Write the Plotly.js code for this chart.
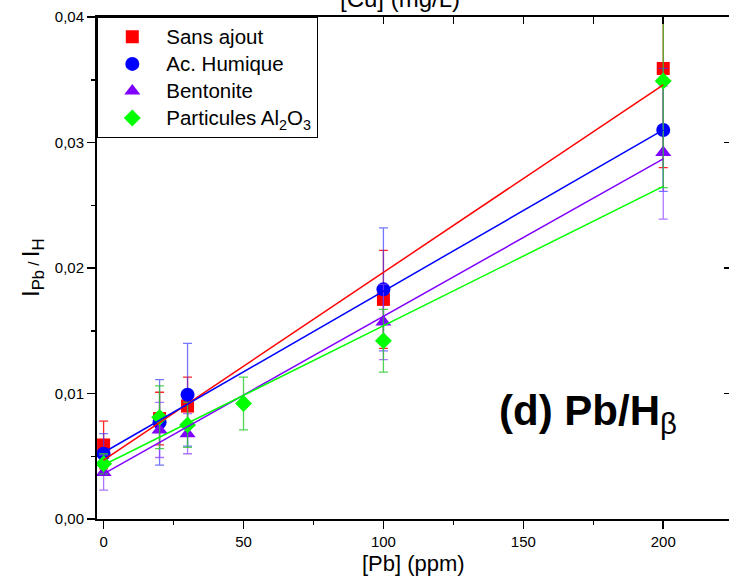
<!DOCTYPE html>
<html><head><meta charset="utf-8">
<script src="https://cdn.plot.ly/plotly-3.0.1.min.js"></script>
<style>body{margin:0;padding:0;background:#fff}#chart{width:729px;height:580px}</style>
</head><body><div id="chart"></div>
<script>
const seriesNames = ['Sans ajout', 'Ac. Humique', 'Bentonite', 'Particules Al<sub>2</sub>O<sub>3</sub>'];
const xSans = [0, 20, 30, 100, 200];
const ySans = [0.0059, 0.0080, 0.0090, 0.0175, 0.0359];
const eSans = [0.0019, 0.0021, 0.0023, 0.0039, 0.0079];
const xHum = [0, 20, 30, 100, 200];
const yHum = [0.0052, 0.0077, 0.0099, 0.0183, 0.0310];
const eHum = [0.0016, 0.0034, 0.0041, 0.0049, 0.0049];
const xBen = [0, 20, 30, 100, 200];
const yBen = [0.0037, 0.0071, 0.0068, 0.0157, 0.0292];
const eBen = [0.0014, 0.0022, 0.0016, 0.0030, 0.0053];
const xAl = [0, 20, 30, 50, 100, 200];
const yAl = [0.0044, 0.0081, 0.0075, 0.0092, 0.0142, 0.0349];
const eAl = [0.0008, 0.0025, 0.0018, 0.0021, 0.0025, 0.0085];
const fitX = [0, 200];
const fitSans = [0.0047, 0.0346];
const fitHum = [0.0053, 0.0310];
const fitBen = [0.0036, 0.0287];
const fitAl = [0.0043, 0.0265];
const xTickVals = [0, 50, 100, 150, 200];
const yTickVals = [0, 0.01, 0.02, 0.03, 0.04];

const colors = ['#ff0000', '#0000ff', '#8000ff', '#00ff00'];
const errColors = ['rgba(255,0,0,0.85)', 'rgba(60,60,255,0.7)', 'rgba(140,60,255,0.7)', 'rgba(40,200,40,0.8)'];
const symbols = ['square', 'circle', 'triangle-up', 'diamond'];
const sizes = [13, 14, 14, 13];
const xs = [xSans, xHum, xBen, xAl];
const ys = [ySans, yHum, yBen, yAl];
const es = [eSans, eHum, eBen, eAl];
const fits = [fitSans, fitHum, fitBen, fitAl];

const traces = [];
for (let i = 0; i < 4; i++) {
  traces.push({
    type: 'scatter', mode: 'markers',
    name: '<span style="font-size:20.5px">' + seriesNames[i] + '</span>',
    x: xs[i], y: ys[i],
    marker: {color: colors[i], symbol: symbols[i], size: sizes[i], line: {width: 0}},
    error_y: {type: 'data', array: es[i], visible: true, color: errColors[i], thickness: 1.3, width: 4.5},
    cliponaxis: true
  });
}
for (let i = 0; i < 4; i++) {
  traces.push({
    type: 'scatter', mode: 'lines', x: fitX, y: fits[i], showlegend: false,
    line: {color: colors[i], width: 1.5}, hoverinfo: 'skip'
  });
}
traces.push({type: 'scatter', x: [], y: [], xaxis: 'x2', yaxis: 'y2', showlegend: false});

const xr = [-2.36, 223.5];
const yr = [0, 0.04];
const fam = 'Liberation Sans, Arial, sans-serif';

const layout = {
  width: 729, height: 580,
  margin: {l: 97, r: 0, t: 17, b: 61, pad: 0},
  paper_bgcolor: '#fff', plot_bgcolor: '#fff',
  separators: ', ',
  font: {family: fam, color: '#000', size: 15},
  showlegend: true,
  legend: {
    x: 0, xanchor: 'left', y: 1, yanchor: 'top',
    bordercolor: '#000', borderwidth: 1.3, bgcolor: '#fff',
    font: {size: 18.5, family: fam}, itemwidth: 58, tracegroupgap: 0,
    itemsizing: 'trace'
  },
  xaxis: {
    range: xr, tickvals: xTickVals, ticktext: xTickVals.map(String),
    ticks: 'outside', ticklen: 8, tickwidth: 1.5, tickcolor: '#000',
    showline: true, linewidth: 2, linecolor: '#000', mirror: false,
    showgrid: false, zeroline: false, tickfont: {size: 15},
    minor: {dtick: 25, tick0: 0, ticks: 'outside', ticklen: 4, tickwidth: 1.5, tickcolor: '#000', showgrid: false}
  },
  yaxis: {
    range: yr, tickvals: yTickVals, tickformat: '.2f',
    ticks: 'outside', ticklen: 8, tickwidth: 1.5, tickcolor: '#000',
    showline: true, linewidth: 2, linecolor: '#000',
    showgrid: false, zeroline: false, tickfont: {size: 15},
    minor: {dtick: 0.005, tick0: 0, ticks: 'outside', ticklen: 4, tickwidth: 1.5, tickcolor: '#000', showgrid: false}
  },
  xaxis2: {
    overlaying: 'x', side: 'top', range: xr, dtick: 25, tick0: 0,
    ticks: 'inside', ticklen: 7, tickwidth: 1.5, tickcolor: '#000',
    showticklabels: false, showline: true, linewidth: 2, linecolor: '#000',
    showgrid: false, zeroline: false
  },
  yaxis2: {
    overlaying: 'y', side: 'right', range: yr, dtick: 0.01, tick0: 0,
    ticks: 'inside', ticklen: 5, tickwidth: 1.5, tickcolor: '#000',
    showticklabels: false, showline: false,
    showgrid: false, zeroline: false
  },
  annotations: [
    {text: 'I<sub>Pb</sub><span style="font-size:15px"> / </span>I<sub>H</sub>', textangle: -90,
     xref: 'paper', yref: 'paper', x: 0, y: 0.5, xanchor: 'center', yanchor: 'middle',
     xshift: -65, showarrow: false, font: {size: 24, family: fam}},
    {text: '[Pb] (ppm)', xref: 'paper', yref: 'paper', x: 0.5, y: 0, xanchor: 'center', yanchor: 'middle',
     yshift: -44, showarrow: false, font: {size: 22, family: fam}},
    {text: '[Cu] (mg/L)', xref: 'paper', yref: 'paper', x: 0.4797, y: 1, xanchor: 'center', yanchor: 'middle',
     yshift: 19, showarrow: false, font: {size: 24, family: fam}},
    {text: '<b>(d) Pb/H</b><sub>β</sub>', xref: 'paper', yref: 'paper', x: 0.6326, y: 0.2096,
     xanchor: 'left', yanchor: 'middle', showarrow: false, font: {size: 42, family: fam}}
  ]
};

Plotly.newPlot('chart', traces, layout, {displayModeBar: false, staticPlot: true});
</script>
</body></html>
